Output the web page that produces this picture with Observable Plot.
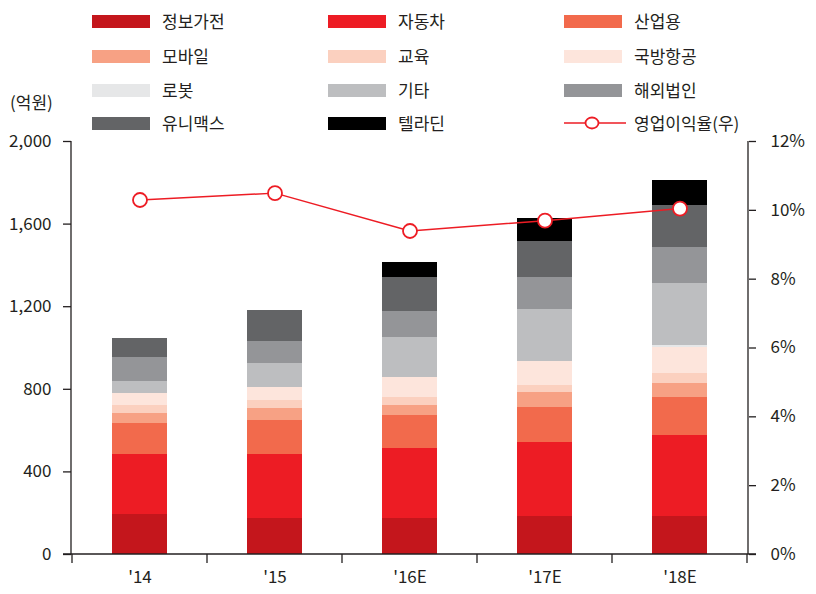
<!DOCTYPE html>
<html><head><meta charset="utf-8">
<script src="https://cdn.jsdelivr.net/npm/d3@7"></script>
<script src="https://cdn.jsdelivr.net/npm/@observablehq/plot@0.6"></script>
<style>
body{margin:0;background:#fff;font-family:"Noto Sans CJK KR","Noto Sans",sans-serif;color:#231f20;}
#wrap{position:relative;width:816px;height:594px;overflow:hidden;background:#fff;}
#legend{position:absolute;left:0;top:0;z-index:2;}
.lg{position:absolute;display:flex;align-items:center;font-size:17px;white-space:nowrap;height:24px;line-height:24px;}
.sw{width:58px;height:13px;margin-right:12px;flex:none;}
#unit{position:absolute;left:10px;top:90px;font-size:17px;line-height:24px;z-index:2;}
#chart{position:absolute;left:0;top:121px;z-index:1;}
#chart svg{overflow:visible;background:transparent;}
</style></head><body>
<div id="wrap"><div id="chart"></div><div id="legend"></div><div id="unit">(억원)</div></div>
<script>
// ---- data ----
const years = ["'14", "'15", "'16E", "'17E", "'18E"];
const seriesNames = ["정보가전", "자동차", "산업용", "모바일", "교육", "국방항공", "로봇", "기타", "해외법인", "유니맥스", "텔라딘"];
const seriesColors = ["#c4161c", "#ed1c24", "#f26a4c", "#f7a184", "#fbd0bf", "#fde5dc", "#e6e7e8", "#bdbec0", "#949598", "#636466", "#000000"];
const infoAppliance = [194, 174, 174, 184, 184];
const automotive    = [290, 310, 339, 358, 392];
const industrial    = [150, 165, 160, 170, 184];
const mobile        = [49, 58, 49, 73, 68];
const education     = [39, 39, 39, 33, 49];
const defense       = [58, 63, 97, 117, 126];
const robot         = [0, 0, 0, 0, 9];
const other         = [58, 116, 194, 252, 300];
const overseas      = [116, 107, 126, 155, 175];
const unimax        = [92, 150, 165, 174, 203];
const teladin       = [0, 0, 72, 111, 121];
const opMargin      = [10.3, 10.5, 9.4, 9.7, 10.05]; // % (right axis)
const lineName = "영업이익율(우)";
const leftTicks = [0, 400, 800, 1200, 1600, 2000];
const rightTicks = [0, 2, 4, 6, 8, 10, 12];

const seriesValues = [infoAppliance, automotive, industrial, mobile, education, defense, robot, other, overseas, unimax, teladin];
const data = [];
seriesNames.forEach((s, i) => years.forEach((y, j) => data.push({year: y, series: s, value: seriesValues[i][j]})));
const lineData = years.map((y, j) => ({year: y, pct: opMargin[j]}));
const yMax = 2000, pctMax = 12;
const pctToY = p => p * yMax / pctMax;

// ---- legend ----
const legend = document.getElementById("legend");
const legendItems = seriesNames.map((s, i) => ({name: s, color: seriesColors[i]})).concat([{name: lineName, line: true}]);
const colX = [92, 328, 564], rowY = [9, 44, 78, 111];
legendItems.forEach((it, k) => {
  const d = document.createElement("div");
  d.className = "lg";
  d.style.left = colX[k % 3] + "px";
  d.style.top = rowY[Math.floor(k / 3)] + "px";
  if (it.line) {
    d.innerHTML = `<svg width="62" height="16" style="margin-right:8px;flex:none"><line x1="0" x2="62" y1="8" y2="8" stroke="#ed1c24" stroke-width="1.5"/><ellipse cx="28" cy="8" rx="6.5" ry="5.5" fill="#fff" stroke="#ed1c24" stroke-width="1.8"/></svg><span>${it.name}</span>`;
  } else {
    d.innerHTML = `<div class="sw" style="background:${it.color}"></div><span>${it.name}</span>`;
  }
  legend.appendChild(d);
});

// ---- axis frame lines (left, right, baseline with band-boundary ticks) ----
function axisFrame(index, scales, values, dims) {
  const g = d3.create("svg:g").attr("stroke", "#231f20").attr("stroke-width", 1.3).attr("fill", "none");
  const {marginLeft: l, marginRight: r, marginTop: t, marginBottom: b, width: w, height: h} = dims;
  const y0 = h - b;
  const xs = scales.x;
  const step = xs(years[1]) - xs(years[0]);
  const bw = typeof xs.bandwidth === "function" ? xs.bandwidth() : 0;
  g.append("line").attr("x1", l).attr("x2", l).attr("y1", t).attr("y2", y0);
  g.append("line").attr("x1", w - r).attr("x2", w - r).attr("y1", t).attr("y2", y0);
  g.append("line").attr("x1", l - 8).attr("x2", w - r + 8).attr("y1", y0).attr("y2", y0);
  const bounds = years.map(c => xs(c) + bw / 2 - step / 2);
  bounds.push(xs(years[years.length - 1]) + bw / 2 + step / 2);
  bounds.forEach(x => g.append("line").attr("x1", x).attr("x2", x).attr("y1", y0).attr("y2", y0 + 9));
  return g.node();
}

const chart = Plot.plot({
  width: 816,
  height: 473,
  marginTop: 20,
  marginBottom: 40,
  marginLeft: 71,
  marginRight: 68,
  style: {fontFamily: "'Noto Sans CJK KR','Noto Sans',sans-serif", fontSize: "17px", color: "#231f20", background: "transparent", overflow: "visible"},
  x: {domain: years, paddingInner: 0.59, paddingOuter: 0.295, axis: null},
  y: {domain: [0, yMax], axis: null},
  color: {domain: seriesNames, range: seriesColors},
  marks: [
    Plot.barY(data, {x: "year", y: "value", fill: "series", shapeRendering: "crispEdges"}),
    Plot.axisY({anchor: "left", ticks: leftTicks, tickFormat: d3.format(","), tickSize: 8, tickPadding: 12, fontSize: 17, label: null, stroke: "#231f20", strokeWidth: 1.3}),
    Plot.axisY({anchor: "right", ticks: rightTicks.map(pctToY), tickFormat: d => Math.round(d * pctMax / yMax) + "%", tickSize: 7, tickPadding: 15, fontSize: 17, label: null, stroke: "#231f20", strokeWidth: 1.3}),
    Plot.axisX({tickSize: 0, tickPadding: 16, fontSize: 17, label: null}),
    axisFrame,
    Plot.line(lineData, {x: "year", y: d => pctToY(d.pct), stroke: "#ed1c24", strokeWidth: 1.5}),
    Plot.dot(lineData, {x: "year", y: d => pctToY(d.pct), r: 7, fill: "#fff", stroke: "#ed1c24", strokeWidth: 1.8})
  ]
});
document.getElementById("chart").appendChild(chart);
</script>
</body></html>
